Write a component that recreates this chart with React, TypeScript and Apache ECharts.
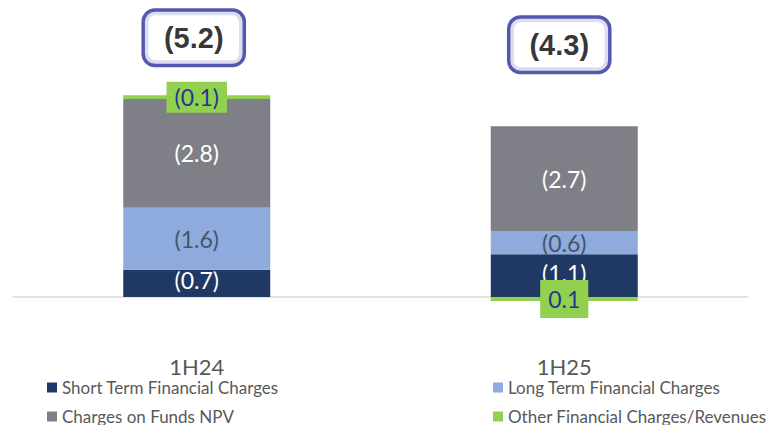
import React, { useEffect, useRef } from "react";
import * as echarts from "echarts";

const categories = ["1H24", "1H25"];
const shortTerm = [0.7, 1.1];
const longTerm = [1.6, 0.6];
const fundsNPV = [2.8, 2.7];
const otherCharges = [0.1, -0.1];
const seriesNames = [
  "Short Term Financial Charges",
  "Long Term Financial Charges",
  "Charges on Funds NPV",
  "Other Financial Charges/Revenues",
];

const totals = categories.map(
  (_, i) => shortTerm[i] + longTerm[i] + fundsNPV[i] + otherCharges[i]
);

const FONT = "Lato";
const fmt = (v: number) => (v >= 0 ? `(${v.toFixed(1)})` : Math.abs(v).toFixed(1));

export default function App() {
  const ref = useRef<HTMLDivElement>(null);
  useEffect(() => {
    if (!ref.current) return;
    const chart = echarts.init(ref.current, null, { renderer: "svg" });
    const labelBase = {
      show: true,
      position: "inside",
      fontFamily: FONT,
      fontSize: 23,
      formatter: (p: any) => fmt(p.value),
    };
    const legendText = { fontFamily: FONT, fontSize: 17, color: "#595959" };
    const legendBase = {
      orient: "vertical",
      top: 374,
      height: 80,
      itemWidth: 10,
      itemHeight: 10,
      itemGap: 12,
      icon: "rect",
      textStyle: legendText,
    };
    chart.setOption({
      animation: false,
      grid: { left: 13, right: 21, top: 25.4, bottom: 89.2 },
      xAxis: {
        type: "category",
        data: categories,
        axisLine: { show: true, onZero: true, lineStyle: { color: "#D9D9D9", width: 1.5 } },
        axisTick: { show: false },
        axisLabel: { margin: 20, fontFamily: FONT, fontSize: 22, color: "#595959" },
      },
      yAxis: {
        type: "value",
        min: -1,
        max: 7,
        show: false,
        splitLine: { show: false },
      },
      legend: [
        { ...legendBase, data: [seriesNames[0], seriesNames[2]], left: 42 },
        { ...legendBase, data: [seriesNames[1], seriesNames[3]], left: 488 },
      ],
      series: [
        {
          name: seriesNames[0],
          type: "bar",
          stack: "total",
          barWidth: "40%",
          data: shortTerm,
          itemStyle: { color: "#203864" },
          label: { ...labelBase, color: "#ffffff", offset: [0, -3] },
        },
        {
          name: seriesNames[1],
          type: "bar",
          stack: "total",
          data: longTerm,
          itemStyle: { color: "#8FAADC" },
          label: { ...labelBase, color: "#44546A" },
        },
        {
          name: seriesNames[2],
          type: "bar",
          stack: "total",
          data: fundsNPV,
          itemStyle: { color: "#7F8087" },
          label: { ...labelBase, color: "#ffffff" },
        },
        {
          name: seriesNames[3],
          type: "bar",
          stack: "total",
          data: otherCharges.map((v) => ({
            value: v,
            label: { padding: v >= 0 ? [5, 8, 3, 8] : [8, 8, 7, 8] },
          })),
          itemStyle: { color: "#92D050" },
          label: { ...labelBase, color: "#1F3A8C", backgroundColor: "#92D050" },
        },
        {
          type: "scatter",
          symbolSize: 0,
          silent: true,
          data: totals.map((t, i) => ({
            value: [i, i === 0 ? 6.68 : 6.5],
            label: { offset: [i === 0 ? -3 : -5, 0] },
          })),
          label: {
            show: true,
            position: "inside",
            formatter: (p: any) => `(${Math.abs(totals[p.dataIndex]).toFixed(1)})`,
            fontFamily: "Liberation Sans",
            fontWeight: "bold",
            fontSize: 29,
            color: "#000000",
            backgroundColor: "#ffffff",
            borderColor: "#2A2E9A",
            borderWidth: 3.5,
            borderRadius: 10,
            padding: [10, 19, 10, 19],
            lineHeight: 32,
          },
        },
      ],
    });
    return () => chart.dispose();
  }, []);
  return (
    <div
      ref={ref}
      style={{ position: "absolute", left: 0, top: 0, width: 769, height: 425 }}
    />
  );
}
